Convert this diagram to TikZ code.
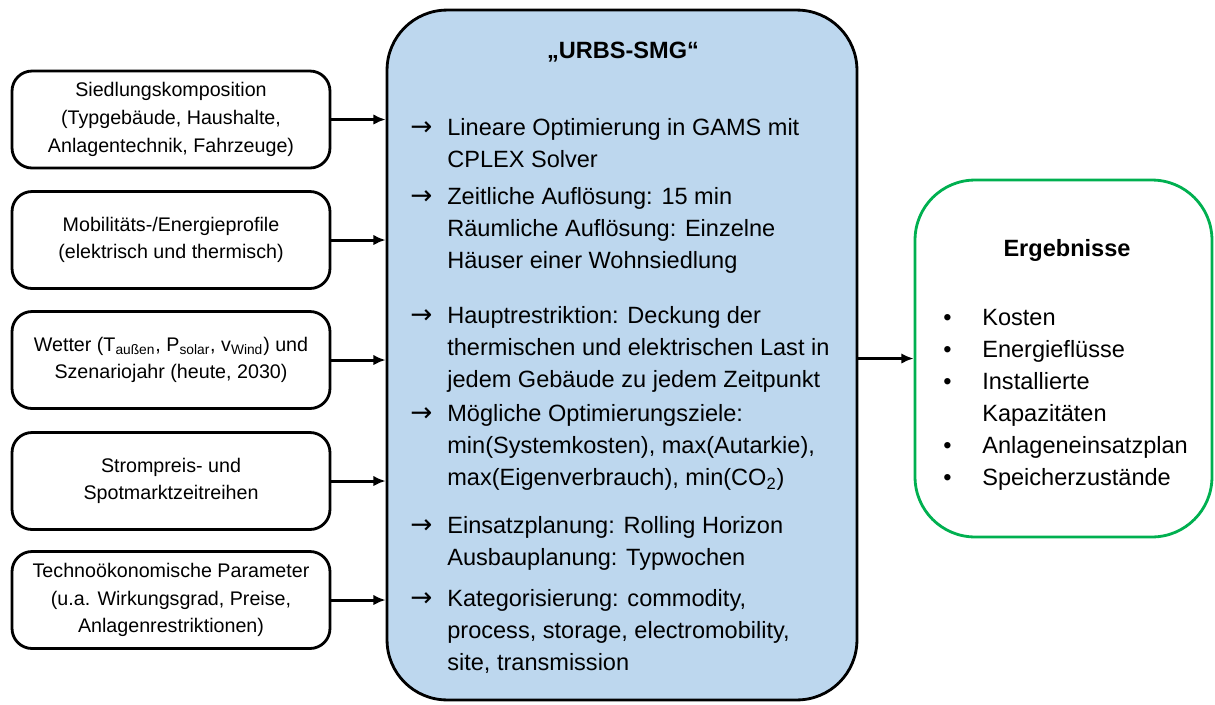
\documentclass[tikz,border=0pt]{standalone}
\usepackage{fontspec}
\setmainfont{Liberation Sans}
\newfontfamily\pfeilfont{DejaVu Sans}
\usepackage{xcolor}
\usepackage{tikz}
\usetikzlibrary{arrows.meta,positioning,calc}

\definecolor{urbsblue}{RGB}{189,215,238}
\definecolor{erggreen}{RGB}{0,176,80}

\begin{document}
\begin{tikzpicture}[x=0.02cm,y=-0.02cm,>={Latex[length=7pt,width=6pt]},
  inbox/.style={draw,line width=1.6pt,rounded corners=0.4cm,minimum width=6.36cm,minimum height=1.94cm,align=center,inner sep=0pt,font=\fontsize{11.2}{15.8}\selectfont},
  flow/.style={->,line width=1.7pt},
  mtext/.style={anchor=north west,inner sep=0pt,align=left,font=\fontsize{13.4}{18.2}\selectfont},
  pfeil/.style={anchor=north west,inner sep=0pt,font=\pfeilfont\fontsize{15}{18.2}\selectfont},
  headline/.style={inner sep=0pt,font=\bfseries\fontsize{13.4}{16}\selectfont}]
  \useasboundingbox (0,0) rectangle (1215,704);
  % inputs
  \node[inbox] (siedlung) at (171,119.5) {Siedlungskomposition\\(Typgebäude, Haushalte,\\Anlagentechnik, Fahrzeuge)};
  \node[inbox] (profile) at (171,240) {Mobilitäts-/Energieprofile\\(elektrisch und thermisch)};
  \node[inbox] (wetter) at (171,360) {Wetter (T\textsubscript{außen}, P\textsubscript{solar}, v\textsubscript{Wind}) und\\Szenariojahr (heute, 2030)};
  \node[inbox] (strom) at (171,481) {Strompreis- und\\Spotmarktzeitreihen};
  \node[inbox] (param) at (171,600) {Technoökonomische Parameter\\(u.a. Wirkungsgrad, Preise,\\Anlagenrestriktionen)};
  % model
  \node[draw,line width=1.6pt,fill=urbsblue,rounded corners=1.2cm,minimum width=9.4cm,minimum height=13.8cm] (urbs) at (622,355) {};
  \node[headline] (urbstitle) at (623,52) {„URBS-SMG“};
  \node[pfeil] (pfeila) at (410,113) {\strut→};
  \node[mtext] (lp) at (447,113) {\strut Lineare Optimierung in GAMS mit\\CPLEX Solver};
  \node[pfeil] (pfeilb) at (410,182) {\strut→};
  \node[mtext] (aufl) at (447,182) {\strut Zeitliche Auflösung: 15 min\\Räumliche Auflösung: Einzelne\\Häuser einer Wohnsiedlung};
  \node[pfeil] (pfeilc) at (410,301) {\strut→};
  \node[mtext] (restr) at (447,301) {\strut Hauptrestriktion: Deckung der\\thermischen und elektrischen Last in\\jedem Gebäude zu jedem Zeitpunkt};
  \node[pfeil] (pfeild) at (410,399) {\strut→};
  \node[mtext] (ziele) at (447,399) {\strut Mögliche Optimierungsziele:\\min(Systemkosten), max(Autarkie),\\max(Eigenverbrauch), min(CO\textsubscript{2})};
  \node[pfeil] (pfeile) at (410,511) {\strut→};
  \node[mtext] (planung) at (447,511) {\strut Einsatzplanung: Rolling Horizon\\Ausbauplanung: Typwochen};
  \node[pfeil] (pfeilf) at (410,584) {\strut→};
  \node[mtext] (kat) at (447,584) {\strut Kategorisierung: commodity,\\process, storage, electromobility,\\site, transmission};
  % results
  \node[draw=erggreen,line width=1.6pt,rounded corners=1.2cm,minimum width=5.94cm,minimum height=7.14cm] (erg) at (1063.5,358.5) {};
  \node[headline] (ergtitle) at (1067,250) {Ergebnisse};
  \node[mtext] (erglist) at (943,303) {\strut\makebox[0.78cm][l]{\textbullet}Kosten\\
    \makebox[0.78cm][l]{\textbullet}Energieflüsse\\
    \makebox[0.78cm][l]{\textbullet}Installierte\\
    \hspace*{0.78cm}Kapazitäten\\
    \makebox[0.78cm][l]{\textbullet}Anlageneinsatzplan\\
    \makebox[0.78cm][l]{\textbullet}Speicherzustände};
  % connectors
  \draw[flow] (siedlung.east) -- (siedlung.east -| urbs.west);
  \draw[flow] (profile.east) -- (profile.east -| urbs.west);
  \draw[flow] (wetter.east) -- (wetter.east -| urbs.west);
  \draw[flow] (strom.east) -- (strom.east -| urbs.west);
  \draw[flow] (param.east) -- (param.east -| urbs.west);
  \draw[flow] (urbs.east |- erg.west) -- (erg.west);
\end{tikzpicture}
\end{document}
